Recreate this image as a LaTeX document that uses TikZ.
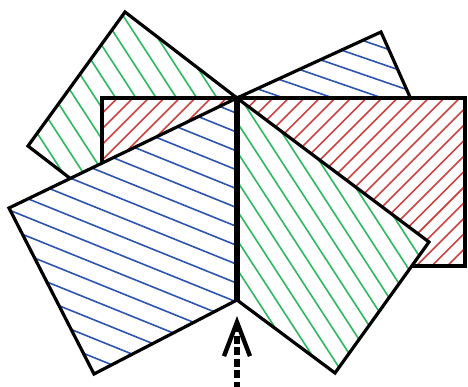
\documentclass[tikz,border=0pt]{standalone}
\usetikzlibrary{arrows.meta}
\definecolor{hgreen}{RGB}{45,185,95}
\definecolor{hblue}{RGB}{45,85,175}
\definecolor{hred}{RGB}{205,65,65}
\newcommand\hatchpoly[5]{%
  \fill[white] #1;
  \begin{scope}
    \clip #1;
    \begin{scope}[shift={#5},rotate=#3]
      \foreach \k in {-30,...,30}
        \draw[#2,hatchline] (-420,\k*#4) -- (420,\k*#4);
    \end{scope}
  \end{scope}
  \draw[outline] #1;
}
\begin{document}
\begin{tikzpicture}[x=0.5pt,y=-0.5pt,
  outline/.style={draw=black,line width=1.6pt,line join=miter},
  hatchline/.style={line width=0.8pt},
  hinge/.style={draw=black,line width=2.6pt},
  push/.style={draw=black,line width=2.8pt,dash pattern=on 4pt off 1.8pt,
    -{Straight Barb[length=17pt,width=13pt,line width=2.2pt]}}]
\useasboundingbox (0,0) rectangle (468,387);
% key points
\coordinate (P) at (237,98);
\coordinate (B) at (237,300);
% upper-left green rectangle
\coordinate (g1) at (125,12);
\coordinate (g2) at (28,146);
\coordinate (g3) at (140,232);
% upper-right blue rectangle
\coordinate (u1) at (381,32);
\coordinate (u2) at (410,97);
\coordinate (u3) at (266,163);
% red rectangle
\coordinate (r1) at (102,98);
\coordinate (r2) at (465,266);
% lower-left blue
\coordinate (b1) at (9,208);
\coordinate (b2) at (94,374);
% lower-right green
\coordinate (l1) at (429,242);
\coordinate (l2) at (335,373);
% arrow
\coordinate (aS) at (237,390);
\coordinate (aT) at (237,316);

\hatchpoly{(P) -- (g1) -- (g2) -- (g3) -- cycle}{hgreen}{-57}{17}{(130,120)}
\hatchpoly{(P) -- (u1) -- (u2) -- (u3) -- cycle}{hblue}{-19}{16}{(330,80)}
\hatchpoly{(r1) rectangle (r2)}{hred}{45}{11}{(300,180)}
\hatchpoly{(P) -- (b1) -- (b2) -- (B) -- cycle}{hblue}{-22}{17.5}{(130,240)}
\hatchpoly{(P) -- (l1) -- (l2) -- (B) -- cycle}{hgreen}{-57}{16}{(320,250)}

\draw[hinge] (P) -- (B);
\draw[push] (aS) -- (aT);
\end{tikzpicture}
\end{document}
